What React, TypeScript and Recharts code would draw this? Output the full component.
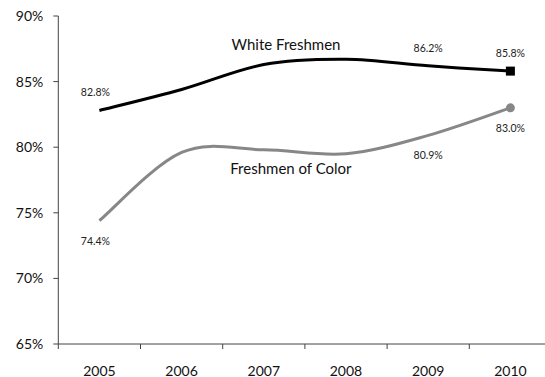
import React from 'react';
import { LineChart, Line, XAxis, YAxis, ReferenceDot, Label } from 'recharts';

const years = ['2005', '2006', '2007', '2008', '2009', '2010'];
const whiteRates = [82.8, 84.4, 86.3, 86.7, 86.2, 85.8];
const colorRates = [74.4, 79.6, 79.8, 79.5, 80.9, 83.0];
// which points get a value label
const whiteLabelled = [true, false, false, false, true, true];
const colorLabelled = [true, false, false, false, true, true];
const yTicks = [65, 70, 75, 80, 85, 90];
const yearTicks = [0, 1, 2, 3, 4, 5];

const data = years.map((year, i) => ({ x: i, year, white: whiteRates[i], color: colorRates[i] }));

const FONT = 'Lato, "Open Sans", sans-serif';
const BLACK = '#000000';
const GREY = '#878787';
const AXIS = '#444444';

const CHART_W = 560;
const Y_AXIS_W = 58.3;
const MARGIN_RIGHT = 8.5;
const CAT_W = (CHART_W - Y_AXIS_W - MARGIN_RIGHT) / years.length;

// Excel-style smoothed line: cubic bezier with Catmull-Rom control points
function excelSmooth(context: any) {
  let pts: [number, number][] = [];
  return {
    areaStart() {},
    areaEnd() {},
    lineStart() { pts = []; },
    point(x: number, y: number) { pts.push([+x, +y]); },
    lineEnd() {
      if (!pts.length) return;
      context.moveTo(pts[0][0], pts[0][1]);
      for (let i = 0; i < pts.length - 1; i++) {
        const p0 = pts[Math.max(i - 1, 0)];
        const p1 = pts[i];
        const p2 = pts[i + 1];
        const p3 = pts[Math.min(i + 2, pts.length - 1)];
        context.bezierCurveTo(
          p1[0] + (p2[0] - p0[0]) / 6, p1[1] + (p2[1] - p0[1]) / 6,
          p2[0] - (p3[0] - p1[0]) / 6, p2[1] - (p3[1] - p1[1]) / 6,
          p2[0], p2[1]
        );
      }
    },
  };
}

// year label centred in its category, tick marks on the category boundaries
const YearTick = (props: any) => {
  const { x, y, payload, index } = props;
  const left = x - CAT_W / 2;
  const right = x + CAT_W / 2;
  return (
    <g>
      <line x1={left} x2={left} y1={y} y2={y + 5} stroke={AXIS} />
      {index === years.length - 1 && <line x1={right} x2={right} y1={y} y2={y + 5} stroke={AXIS} />}
      <text x={x} y={y + 26} textAnchor="middle" dominantBaseline="central"
        style={{ fontFamily: FONT, fontSize: 14, fill: '#111' }}>
        {years[payload.value]}
      </text>
    </g>
  );
};

const valueText = (x: number, y: number, v: number) => (
  <text x={x} y={y} textAnchor="middle" dominantBaseline="central"
    style={{ fontFamily: FONT, fontSize: 10.5, fill: '#222' }}>
    {v.toFixed(1)}%
  </text>
);

const whiteDot = (p: any) => {
  const last = p.index === years.length - 1;
  return (
    <g key={`w${p.index}`}>
      {last && <rect x={p.cx - 4.5} y={p.cy - 4.5} width={9} height={9} fill={BLACK} />}
      {whiteLabelled[p.index] && valueText(p.cx + (p.index === 0 ? -4 : 0), p.cy - 18, p.payload.white)}
    </g>
  );
};

const colorDot = (p: any) => {
  const last = p.index === years.length - 1;
  return (
    <g key={`c${p.index}`}>
      {last && <circle cx={p.cx} cy={p.cy} r={4.5} fill={GREY} />}
      {colorLabelled[p.index] && valueText(p.cx + (p.index === 0 ? -4 : 0), p.cy + 20, p.payload.color)}
    </g>
  );
};

const seriesName = (text: string) => (props: any) => {
  const vb = props.viewBox || {};
  return (
    <text x={vb.x + (vb.width || 0) / 2} y={vb.y + (vb.height || 0) / 2} textAnchor="middle" dominantBaseline="central"
      style={{ fontFamily: FONT, fontSize: 15, fill: '#111' }}>
      {text}
    </text>
  );
};

export default function App() {
  return (
    <div style={{ position: 'absolute', left: 0, top: 0, width: 545, height: 377, overflow: 'hidden', background: '#fff' }}>
      <LineChart width={CHART_W} height={377} data={data} margin={{ top: 16, right: MARGIN_RIGHT, bottom: 0, left: 0 }}>
        <XAxis type="number" dataKey="x" domain={[-0.5, 5.5]} ticks={yearTicks} interval={0}
          height={33} tickLine={false} tickSize={0} tickMargin={0} stroke={AXIS} tick={YearTick} />
        <YAxis type="number" domain={[65, 90]} ticks={yTicks} tickFormatter={(v: number) => `${v}%`}
          width={Y_AXIS_W} tickSize={5} tickMargin={10} stroke={AXIS} interval={0}
          tick={{ fontFamily: FONT, fontSize: 14, fill: '#111' }} />
        <Line dataKey="white" type={excelSmooth as any} stroke={BLACK} strokeWidth={3}
          dot={whiteDot} activeDot={false} isAnimationActive={false} />
        <Line dataKey="color" type={excelSmooth as any} stroke={GREY} strokeWidth={3}
          dot={colorDot} activeDot={false} isAnimationActive={false} />
        <ReferenceDot x={2.27} y={87.83} r={0} fill="none" stroke="none">
          <Label content={seriesName('White Freshmen')} />
        </ReferenceDot>
        <ReferenceDot x={2.33} y={78.45} r={0} fill="none" stroke="none">
          <Label content={seriesName('Freshmen of Color')} />
        </ReferenceDot>
      </LineChart>
    </div>
  );
}
